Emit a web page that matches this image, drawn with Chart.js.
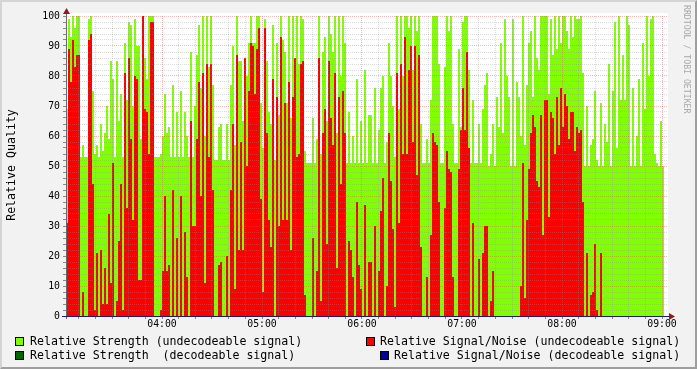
<!DOCTYPE html>
<html><head><meta charset="utf-8">
<script src="https://cdn.jsdelivr.net/npm/chart.js@4.4.1/dist/chart.umd.min.js"></script>
<style>
html,body{margin:0;padding:0;}
body{width:697px;height:369px;overflow:hidden;background:#F2F2F2;position:relative;font-family:"DejaVu Sans Mono",monospace;}
#frame{position:absolute;left:0;top:0;width:697px;height:369px;box-sizing:border-box;border-top:2px solid #D4D4D4;border-left:2px solid #D4D4D4;border-right:2px solid #9E9E9E;border-bottom:2px solid #9E9E9E;pointer-events:none;}
canvas{position:absolute;left:0;top:0;}
.leg{position:absolute;font-size:11.6px;white-space:pre;color:#000;line-height:14px;}
.box{position:absolute;width:7px;height:7px;border:1px solid #000;}
#ytitle{position:absolute;left:11px;top:165px;transform:translate(-50%,-50%) rotate(-90deg);font-size:11.6px;white-space:nowrap;color:#000;}
#wm{position:absolute;left:682px;top:5px;writing-mode:vertical-rl;font-size:8.2px;color:#A8A8A8;white-space:nowrap;line-height:10px;}
</style></head>
<body>
<canvas id="c" width="697" height="369"></canvas>
<div id="ytitle">Relative Quality</div>
<div id="wm">RRDTOOL / TOBI OETIKER</div>
<div class="box" style="left:15px;top:337px;background:#80FF00"></div>
<div class="leg" style="left:30px;top:334px">Relative Strength (undecodeable signal)</div>
<div class="box" style="left:15px;top:351px;background:#006600"></div>
<div class="leg" style="left:30px;top:348px">Relative Strength  (decodeable signal)</div>
<div class="box" style="left:366px;top:337px;background:#FF0000"></div>
<div class="leg" style="left:380px;top:334px">Relative Signal/Noise (undecodeable signal)</div>
<div class="box" style="left:380px;top:351px;background:#000099"></div>
<div class="leg" style="left:394px;top:348px">Relative Signal/Noise (decodeable signal)</div>
<div id="frame"></div>
<script>
// time axis: minutes after 03:00; one sample every 1.2 minutes starting 03:02:24
const START = 2.4;
const STEP = 1.2;
const hourLabels = ['04:00','05:00','06:00','07:00','08:00','09:00'];

const strengthUndecodeable = [
69,99,93,100,96,100,100,53,57,53,
53,99,100,75,54,57,53,64,55,61,
70,59,85,79,53,85,65,74,53,91,
72,98,97,70,99,90,90,59,86,86,
79,100,100,100,53,53,53,54,60,74,
61,63,53,77,53,68,53,75,53,68,
60,53,88,53,70,87,97,76,100,60,
100,83,100,77,52,52,63,64,52,52,
64,52,77,90,57,100,85,85,65,86,
80,91,100,91,91,100,100,71,56,99,
85,68,64,97,52,91,67,100,92,88,
71,100,66,100,83,100,84,100,99,55,
51,51,51,66,51,59,100,54,88,93,
65,100,94,88,100,61,100,80,100,91,
51,68,51,60,51,79,51,65,51,82,
51,67,67,51,76,51,62,76,80,51,
58,91,80,70,53,100,69,100,80,100,
100,96,100,82,100,95,100,64,51,51,
59,51,72,100,100,100,84,51,51,83,
100,95,100,64,51,51,89,63,98,100,
100,82,51,72,51,51,64,51,69,77,
81,50,54,64,50,73,63,91,61,99,
80,73,50,99,50,78,73,60,100,57,
77,91,95,73,100,86,82,100,100,100,
100,74,99,87,100,89,100,91,100,100,
95,89,100,93,100,99,99,100,81,50,
70,50,57,59,75,52,50,71,50,64,
58,84,50,75,98,56,100,72,87,72,
100,97,50,76,50,60,79,50,91,69,
100,80,99,100,54,51,50,65,50
];
const snrUndecodeable = [
31,89,78,92,83,87,87,0,8,0,
0,92,94,44,2,21,0,22,4,16,
4,34,11,51,0,5,25,44,2,81,
36,86,59,32,80,79,12,12,100,69,
68,54,98,98,0,0,0,2,15,40,
15,17,0,42,0,26,0,40,0,28,
13,0,65,30,30,59,78,40,81,11,
84,53,84,42,0,0,17,18,0,0,
20,0,42,64,9,87,22,58,22,86,
50,75,91,90,74,89,96,39,8,96,
61,32,23,79,0,73,30,93,32,71,
32,78,22,73,86,53,54,84,85,7,
0,0,0,26,0,15,86,5,61,69,
24,85,66,57,81,16,73,44,75,61,
0,25,22,13,0,38,17,9,0,37,
0,18,18,0,30,0,15,35,46,0,
10,61,45,29,3,81,31,84,54,93,
54,82,90,58,90,47,87,23,0,0,
13,0,27,61,58,57,38,0,0,36,
55,49,48,13,0,0,49,62,76,62,
88,56,0,31,0,0,19,0,21,30,
30,0,5,15,0,0,0,0,0,0,
0,0,0,0,0,0,0,10,51,6,
32,49,61,67,63,45,43,67,27,72,
72,33,68,66,54,73,57,76,63,74,
70,59,68,68,55,63,61,62,38,0,
21,0,7,8,24,2,0,21,0,0,
0,0,0,0,0,0,0,0,0,0,
0,0,0,0,0,0,0,0,0,0,
0,0,0,0,0,0,0,0,0
];
const strengthDecodeable = [];
const snrDecodeable = [];

function stepPoints(vals){
  const p = [];
  vals.forEach((v,i)=>{
    p.push({x: START + STEP*i, y: v});
    p.push({x: START + STEP*(i+1), y: v});
  });
  return p;
}

const GRID = 'rgba(143,143,143,0.32)';
const MGRID = 'rgba(222,80,80,0.38)';

const plotBg = {
  id:'plotBg',
  beforeDraw(chart){
    const {ctx, chartArea:a} = chart;
    ctx.save();
    ctx.fillStyle = '#FFFFFF';
    ctx.fillRect(a.left, a.top-3, a.right-a.left, a.bottom-a.top+3);
    ctx.restore();
  }
};
const axesPlugin = {
  id:'axesPlugin',
  afterDraw(chart){
    const {ctx, chartArea:a} = chart;
    ctx.save();
    ctx.strokeStyle = '#6A6A6A';
    ctx.lineWidth = 1;
    ctx.beginPath();
    ctx.moveTo(a.left+0.5, a.bottom+3);
    ctx.lineTo(a.left+0.5, a.top-5);
    ctx.stroke();
    ctx.strokeStyle = '#1C1C70';
    ctx.beginPath();
    ctx.moveTo(a.left-4, a.bottom+0.5);
    ctx.lineTo(a.right+4, a.bottom+0.5);
    ctx.stroke();
    ctx.fillStyle = '#8B1C1C';
    ctx.beginPath();
    ctx.moveTo(a.left+0.5, a.top-8);
    ctx.lineTo(a.left-3, a.top-2);
    ctx.lineTo(a.left+4, a.top-2);
    ctx.closePath();
    ctx.fill();
    ctx.beginPath();
    ctx.moveTo(a.right+7, a.bottom+0.5);
    ctx.lineTo(a.right+1, a.bottom-3);
    ctx.lineTo(a.right+1, a.bottom+4);
    ctx.closePath();
    ctx.fill();
    ctx.restore();
  }
};

const ds = (label, vals, color, order) => ({
  label, data: stepPoints(vals), backgroundColor: color, borderColor: color, order,
  borderWidth: 0, pointRadius: 0, pointHoverRadius: 0, fill: 'origin', tension: 0
});

new Chart(document.getElementById('c'), {
  type: 'line',
  data: {
    datasets: [
      ds('Relative Strength (undecodeable signal)', strengthUndecodeable, '#80FF00', 4),
      ds('Relative Strength  (decodeable signal)', strengthDecodeable, '#006600', 3),
      ds('Relative Signal/Noise (undecodeable signal)', snrUndecodeable, '#FF0000', 2),
      ds('Relative Signal/Noise (decodeable signal)', snrDecodeable, '#000099', 1)
    ]
  },
  options: {
    responsive: false,
    animation: false,
    devicePixelRatio: 1,
    events: [],
    layout: { padding: { top: 16, right: 29, left: 0, bottom: 0 }, autoPadding: false },
    plugins: { legend: { display: false }, tooltip: { enabled: false } },
    scales: {
      x: {
        type: 'linear', min: 2.4, max: 363.6,
        afterFit(s){ s.height = 53; },
        border: { display: false, dash: [1,1] },
        grid: {
          z: 1,
          color: c => (c.tick && Math.round(c.tick.value) % 60 === 0) ? MGRID : GRID,
          lineWidth: 1, drawTicks: true, tickLength: 3, tickColor: '#888', tickWidth: 1
        },
        ticks: {
          stepSize: 10, includeBounds: false, autoSkip: false, maxRotation: 0, minRotation: 0,
          maxTicksLimit: 1000, padding: 0, color: '#000',
          font: { family: 'DejaVu Sans Mono', size: 9.8 },
          callback: v => { const m = Math.round(v); return m % 60 === 0 ? (hourLabels[m/60 - 1] || '') : ''; }
        }
      },
      y: {
        min: 0, max: 100,
        afterFit(s){ s.width = 66; },
        border: { display: false, dash: [1,1] },
        grid: {
          z: 1,
          color: c => (c.tick && Math.round(c.tick.value) % 10 === 0) ? MGRID : GRID,
          lineWidth: 1, drawTicks: true, tickLength: 3, tickColor: '#888', tickWidth: 1
        },
        ticks: {
          stepSize: 2, autoSkip: false, maxTicksLimit: 1000, padding: 3, color: '#000',
          font: { family: 'DejaVu Sans Mono', size: 9.8 },
          callback: v => { const n = Math.round(v); return n % 10 === 0 ? String(n) : ''; }
        }
      }
    }
  },
  plugins: [plotBg, axesPlugin]
});
</script>
</body></html>
